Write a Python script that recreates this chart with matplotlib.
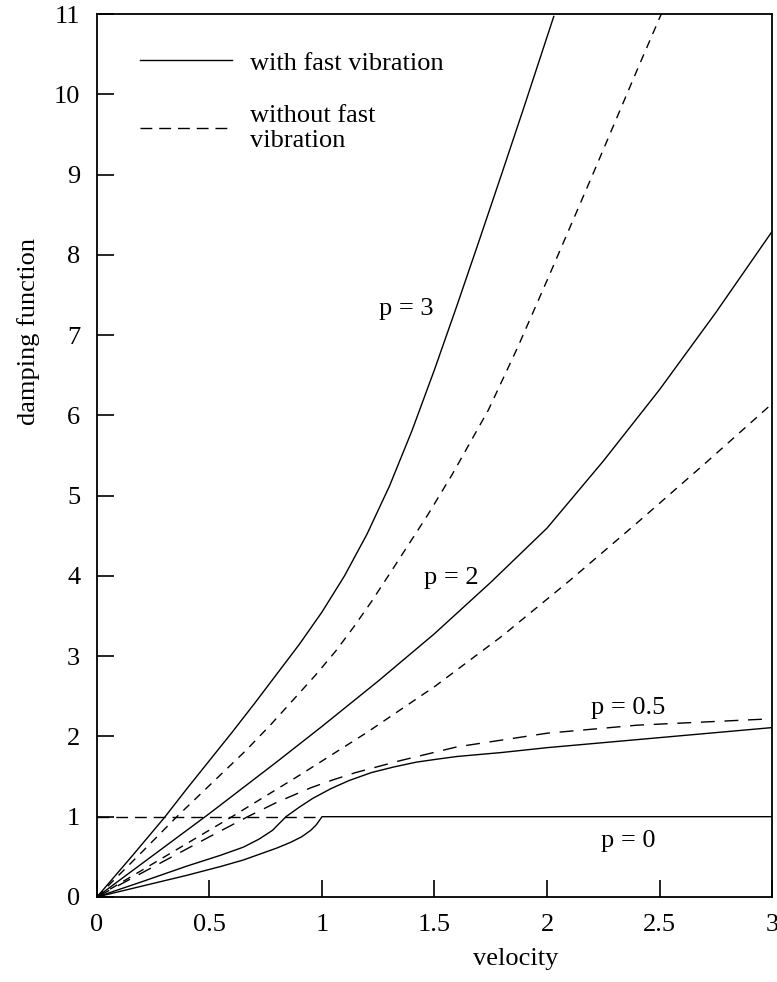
import numpy as np
import matplotlib
matplotlib.use('Agg')
import matplotlib.pyplot as plt
from matplotlib.lines import Line2D

plt.rcParams['font.family'] = ['Liberation Serif', 'DejaVu Serif']
plt.rcParams['font.size'] = 19

# %% data (velocity, damping function)
# p = 3
p3_fast_x = [0, 0.15, 0.3, 0.4, 0.5, 0.6, 0.7, 0.8, 0.9, 1.0, 1.1, 1.2, 1.3, 1.4,
             1.5, 1.6, 1.7, 1.8, 1.9, 2.03]
p3_fast_y = [0, 0.49, 0.99, 1.35, 1.70, 2.05, 2.41, 2.78, 3.15, 3.55, 4.0, 4.52, 5.12, 5.81,
             6.57, 7.37, 8.19, 9.02, 9.86, 10.97]
p3_slow_x = [0, 0.2, 0.355, 0.5, 0.66, 0.77, 0.88, 0.97, 1.06, 1.14, 1.22, 1.32, 1.47,
             1.58, 1.74, 1.87, 2.0, 2.1, 2.2, 2.3, 2.4, 2.52]
p3_slow_y = [0, 0.56, 1.0, 1.39, 1.82, 2.14, 2.48, 2.76, 3.06, 3.36, 3.68, 4.11, 4.76,
             5.27, 6.07, 6.85, 7.68, 8.33, 8.98, 9.64, 10.3, 11.08]

# p = 2
p2_fast_x = [0, 0.25, 0.5, 0.8, 1.0, 1.25, 1.5, 1.75, 2.0, 2.25, 2.5, 2.75, 3.0]
p2_fast_y = [0, 0.52, 1.04, 1.685, 2.125, 2.69, 3.28, 3.92, 4.595, 5.43, 6.32, 7.28, 8.29]
p2_slow_x = [0, 0.3, 0.6, 0.9, 1.2, 1.5, 1.8, 2.1, 2.4, 2.7, 3.0]
p2_slow_y = [0, 0.5, 1.0, 1.516, 2.05, 2.62, 3.25, 3.94, 4.66, 5.395, 6.145]

# p = 0.5
p05_fast_x = [0, 0.2, 0.4, 0.55, 0.65, 0.72, 0.78, 0.84, 0.9, 0.96, 1.04, 1.12, 1.22,
              1.32, 1.42, 1.52, 1.6, 1.8, 2.0, 2.2, 2.4, 2.6, 2.8, 3.0]
p05_fast_y = [0, 0.19, 0.385, 0.52, 0.62, 0.72, 0.83, 1.0, 1.12, 1.23, 1.35, 1.45, 1.55,
              1.62, 1.68, 1.72, 1.75, 1.80, 1.86, 1.91, 1.96, 2.01, 2.06, 2.11]
p05_slow_x = [0, 0.3, 0.5, 0.67, 0.8, 0.95, 1.05, 1.15, 1.35, 1.6, 2.0, 2.4, 3.0]
p05_slow_y = [0, 0.45, 0.75, 1.0, 1.18, 1.36, 1.46, 1.55, 1.70, 1.87, 2.04, 2.14, 2.22]

# p = 0
p0_fast_x = [0, 0.2, 0.4, 0.55, 0.65, 0.74, 0.8, 0.86, 0.91, 0.95, 0.975, 0.99, 1.0, 3.0]
p0_fast_y = [0, 0.135, 0.27, 0.38, 0.46, 0.55, 0.61, 0.68, 0.75, 0.83, 0.9, 0.96, 1.0, 1.0]
p0_slow_x = [0, 1.0]
p0_slow_y = [1.0, 1.0]

curve_labels = ['p = 3', 'p = 2', 'p = 0.5', 'p = 0']
label_x = [1.375, 1.575, 2.36, 2.36]
label_y = [7.33, 3.97, 2.35, 0.7]

# %% plot
fig = plt.figure(figsize=(7.77, 9.82), dpi=100)
ax = fig.add_axes([0.1248, 0.0866, 0.8688, 0.8991])

lw = 1.0
short_dash = (0, (6, 5))
long_dash = (0, (10, 7))
mid_dash = (0, (8.5, 5))

for xs, ys in [(p3_fast_x, p3_fast_y), (p2_fast_x, p2_fast_y),
               (p05_fast_x, p05_fast_y), (p0_fast_x, p0_fast_y)]:
    ax.plot(xs, ys, color='black', lw=lw, solid_joinstyle='round')

ax.plot(p3_slow_x, p3_slow_y, color='black', lw=lw, linestyle=short_dash)
ax.plot(p2_slow_x, p2_slow_y, color='black', lw=lw, linestyle=short_dash)
ax.plot(p05_slow_x, p05_slow_y, color='black', lw=lw, linestyle=long_dash)
ax.plot(p0_slow_x, p0_slow_y, color='black', lw=lw, linestyle=mid_dash)

for t, lx, ly in zip(curve_labels, label_x, label_y):
    ax.text(lx, ly, t, ha='center', va='center')

ax.set_xlim(0, 3)
ax.set_ylim(0, 11)
ax.set_xticks([0, 0.5, 1, 1.5, 2, 2.5, 3])
ax.set_xticklabels(['0', '0.5', '1', '1.5', '2', '2.5', '3'])
ax.set_yticks(range(0, 12))
ax.tick_params(direction='in', length=12, width=1.2, pad=12)
for s in ax.spines.values():
    s.set_linewidth(1.3)

ax.set_xlabel('velocity')
ax.xaxis.set_label_coords(0.62, -0.058)
ax.set_ylabel('damping function')
ax.yaxis.set_label_coords(-0.085, 0.64)

handles = [Line2D([], [], color='black', lw=lw),
           Line2D([], [], color='black', lw=lw, linestyle=mid_dash)]
ax.legend(handles, ['with fast vibration', 'without fast\nvibration'],
          loc='upper left', bbox_to_anchor=(0.028, 0.985), frameon=False,
          handlelength=3.5, handletextpad=0.7, labelspacing=1.15)

plt.savefig('out.png', dpi=100)
